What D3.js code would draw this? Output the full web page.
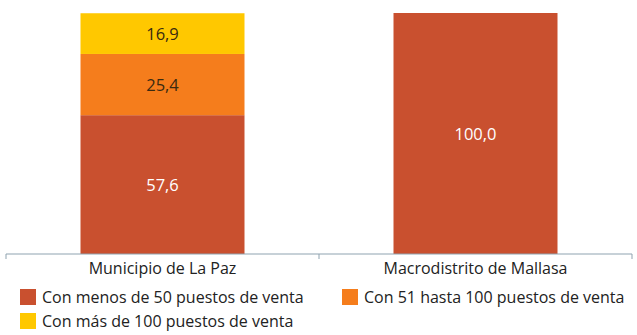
<!DOCTYPE html>
<html><head><meta charset="utf-8">
<script src="https://cdn.jsdelivr.net/npm/d3@7"></script>
<style>body{margin:0;background:#fff}svg{display:block}</style>
</head><body>
<script>
const categories = ["Municipio de La Paz", "Macrodistrito de Mallasa"];
const seriesNames = ["Con menos de 50 puestos de venta", "Con 51 hasta 100 puestos de venta", "Con más de 100 puestos de venta"];
const menos50 = [57.6, 100.0];
const de51a100 = [25.4, 0];
const mas100 = [16.9, 0];
const colors = ["#C9502F", "#F57D1C", "#FFC800"];
const labelColors = ["#ffffff", "#3a2a10", "#3a2a10"];

const W = 637, H = 335;
const font = "Open Sans, Liberation Sans, sans-serif";
const svg = d3.select("body").append("svg").attr("width", W).attr("height", H);

const data = categories.map((c, i) => ({cat: c, s0: menos50[i], s1: de51a100[i], s2: mas100[i]}));
const stack = d3.stack().keys(["s0", "s1", "s2"]);
const series = stack(data);

const x = d3.scaleBand().domain(categories).range([6, 632]).paddingInner(0).paddingOuter(0);
const y = d3.scaleLinear().domain([0, 100]).range([254, 13]);
const barW = 164;

series.forEach((s, si) => {
  const g = svg.append("g");
  s.forEach((d, i) => {
    if (d[1] - d[0] <= 0) return;
    const cx = x(categories[i]) + x.bandwidth() / 2;
    g.append("rect").attr("x", cx - barW / 2).attr("width", barW)
      .attr("y", y(d[1])).attr("height", y(d[0]) - y(d[1])).attr("fill", colors[si]);
    g.append("text").attr("x", cx).attr("y", (y(d[0]) + y(d[1])) / 2)
      .attr("text-anchor", "middle").attr("dominant-baseline", "central")
      .attr("font-family", font).attr("font-size", 16.5).attr("fill", labelColors[si])
      .text(d3.format(".1f")(d[1] - d[0]).replace(".", ","));
  });
});

// axis
const axisG = svg.append("g").attr("transform", "translate(0,254)");
axisG.append("line").attr("x1", 6).attr("x2", 632).attr("stroke", "#8FA3B0").attr("stroke-width", 1);
[6, x(categories[1]), 632].forEach(t => {
  axisG.append("line").attr("x1", t).attr("x2", t).attr("y1", 0).attr("y2", 5).attr("stroke", "#8FA3B0");
});
categories.forEach(c => {
  axisG.append("text").attr("x", x(c) + x.bandwidth() / 2).attr("y", 14)
    .attr("text-anchor", "middle").attr("dominant-baseline", "central")
    .attr("font-family", font).attr("font-size", 16).attr("fill", "#222").text(c);
});

// legend
const legendPos = [[20, 297], [342, 297], [20, 321]];
seriesNames.forEach((n, i) => {
  const [lx, ly] = legendPos[i];
  svg.append("rect").attr("x", lx).attr("y", ly - 8).attr("width", 16).attr("height", 16).attr("fill", colors[i]);
  svg.append("text").attr("x", lx + 22).attr("y", ly).attr("dominant-baseline", "central")
    .attr("font-family", font).attr("font-size", 16).attr("fill", "#222").text(n);
});
</script>
</body></html>
